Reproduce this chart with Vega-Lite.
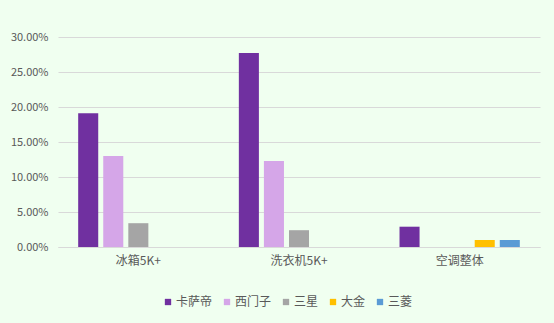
{
  "$schema": "https://vega.github.io/schema/vega-lite/v6.json",
  "width": 482,
  "height": 210,
  "autosize": {"type": "none"},
  "padding": {"left": 58, "top": 37, "right": 14, "bottom": 76},
  "background": "#F0FFF0",
  "config": {
    "view": {"stroke": null},
    "font": "Noto Sans CJK SC",
    "axis": {"labelFont": "Noto Sans CJK SC", "labelColor": "#595959", "labelFontSize": 11},
    "legend": {"labelFont": "Noto Sans CJK SC", "labelColor": "#595959", "labelFontSize": 12}
  },
  "data": {
    "values": [
      {"category": "冰箱5K+", "brand": "卡萨帝", "value": 0.191},
      {"category": "冰箱5K+", "brand": "西门子", "value": 0.130},
      {"category": "冰箱5K+", "brand": "三星", "value": 0.034},
      {"category": "洗衣机5K+", "brand": "卡萨帝", "value": 0.277},
      {"category": "洗衣机5K+", "brand": "西门子", "value": 0.123},
      {"category": "洗衣机5K+", "brand": "三星", "value": 0.024},
      {"category": "空调整体", "brand": "卡萨帝", "value": 0.029},
      {"category": "空调整体", "brand": "大金", "value": 0.010},
      {"category": "空调整体", "brand": "三菱", "value": 0.010}
    ]
  },
  "mark": {"type": "bar"},
  "encoding": {
    "x": {
      "field": "category", "type": "nominal", "sort": ["冰箱5K+", "洗衣机5K+", "空调整体"],
      "scale": {"paddingInner": 0.22, "paddingOuter": 0.11},
      "axis": {"title": null, "labelAngle": 0, "ticks": false, "domainColor": "#D9D9D9", "labelPadding": 8, "labelFontSize": 12}
    },
    "xOffset": {
      "field": "brand", "type": "nominal",
      "scale": {"domain": ["卡萨帝", "西门子", "三星", "大金", "三菱"], "paddingInner": 0.2, "paddingOuter": 0.1}
    },
    "y": {
      "field": "value", "type": "quantitative",
      "scale": {"domain": [0, 0.3]},
      "axis": {"title": null, "format": ".2%", "values": [0, 0.05, 0.1, 0.15, 0.2, 0.25, 0.3], "labelOverlap": false, "domain": false, "ticks": false, "gridColor": "#D9D9D9", "labelPadding": 10}
    },
    "color": {
      "field": "brand", "type": "nominal",
      "scale": {"domain": ["卡萨帝", "西门子", "三星", "大金", "三菱"], "range": ["#7030A0", "#D5A6E8", "#A5A5A5", "#FFC000", "#5B9BD5"]},
      "legend": {"title": null, "orient": "none", "direction": "horizontal", "legendX": 104, "legendY": 259, "symbolType": "square", "symbolSize": 40, "columnPadding": 8, "labelOffset": 2}
    }
  }
}
